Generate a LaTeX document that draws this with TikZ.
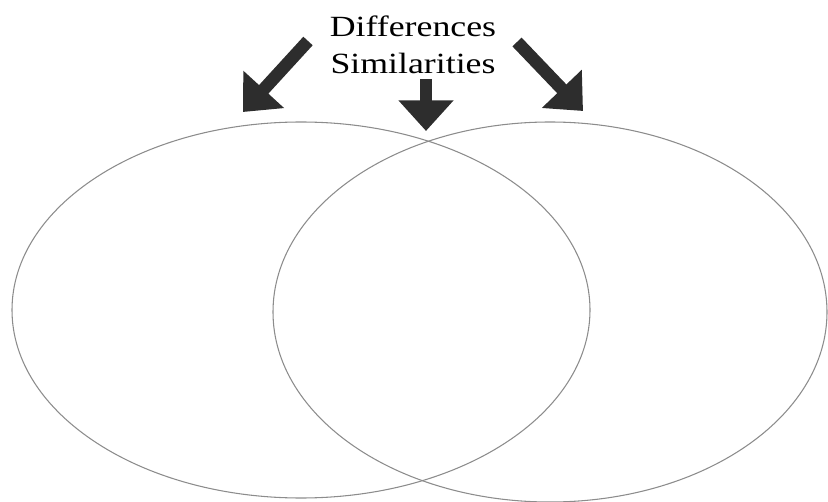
\documentclass[tikz,border=0pt]{standalone}
\usepackage{fontspec}
\setmainfont{Liberation Serif}
\usetikzlibrary{shapes.geometric,arrows.meta}
\definecolor{ringgray}{RGB}{140,140,140}
\definecolor{arrowgray}{RGB}{45,45,45}
\tikzset{
  ring/.style={ellipse, draw=ringgray, line width=0.8pt, inner sep=0pt},
  label/.style={inner sep=0pt, font=\fontsize{22}{26}\selectfont, xscale=1.22},
  bigarrow/.style={draw=arrowgray, line width=9.5pt, -{Triangle[length=23pt, width=40pt, fill=arrowgray]}}
}
\begin{document}
\begin{tikzpicture}[x=0.75pt, y=-0.75pt]
\useasboundingbox (0,0) rectangle (828,502);
% the two sets
\node[ring, minimum width=433.5pt, minimum height=282pt] (left) at (301,310) {};
\node[ring, minimum width=415.5pt, minimum height=285pt] (right) at (550,312) {};
% the headings
\node[label] (diff) at (413,26) {Differences};
\node[label] (sim) at (413,63) {Similarities};
% arrow ends
\coordinate (ltail) at (308,41);
\coordinate (lhead) at (243,112);
\coordinate (rtail) at (517,42);
\coordinate (rhead) at (583,111);
\coordinate (mtail) at (426,79);
\coordinate (mhead) at (426,131);
\draw[bigarrow] (ltail) -- (lhead);
\draw[bigarrow] (rtail) -- (rhead);
\draw[bigarrow] (mtail) -- (mhead);
\end{tikzpicture}
\end{document}
